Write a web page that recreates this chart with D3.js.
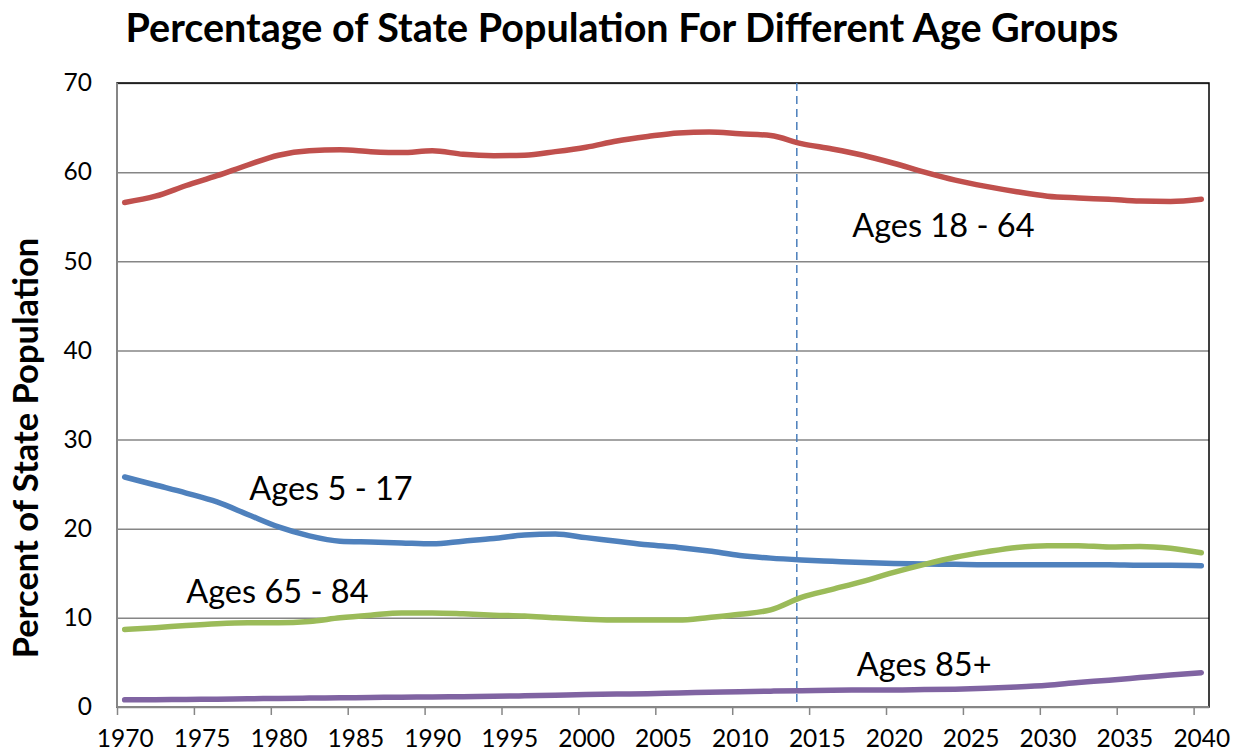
<!DOCTYPE html>
<html>
<head>
<meta charset="utf-8">
<script src="https://cdn.jsdelivr.net/npm/d3@7"></script>
<style>
  body { margin: 0; background: #fff; }
  svg { display: block; font-family: Lato, "Open Sans", sans-serif; }
</style>
</head>
<body>
<svg id="chart" width="1238" height="752"></svg>
<script>
const years = [1970, 1972, 1974, 1976, 1978, 1980, 1982, 1984, 1986, 1988,
  1990, 1992, 1994, 1996, 1998, 2000, 2002, 2004, 2006, 2008,
  2010, 2012, 2014, 2016, 2018, 2020, 2022, 2024, 2026, 2028,
  2030, 2032, 2034, 2036, 2038, 2040]

const ages18to64 = [56.6, 57.3, 58.5, 59.6, 60.8, 61.9, 62.4, 62.5, 62.3, 62.2,
  62.4, 62.0, 61.85, 61.9, 62.3, 62.8, 63.5, 64.0, 64.4, 64.5,
  64.3, 64.1, 63.2, 62.6, 61.9, 61.0, 60.0, 59.1, 58.4, 57.8,
  57.3, 57.1, 56.95, 56.75, 56.7, 56.95]

const ages5to17 = [25.8, 24.9, 24.0, 23.0, 21.6, 20.2, 19.2, 18.6, 18.5, 18.4,
  18.3, 18.6, 18.9, 19.3, 19.4, 19.0, 18.6, 18.2, 17.9, 17.5,
  17.0, 16.7, 16.5, 16.35, 16.2, 16.1, 16.05, 16.0, 15.95, 15.95,
  15.95, 15.95, 15.95, 15.9, 15.9, 15.85]

const ages65to84 = [8.7, 8.9, 9.15, 9.35, 9.45, 9.45, 9.6, 10.0, 10.3, 10.55,
  10.55, 10.45, 10.3, 10.2, 10.0, 9.85, 9.75, 9.75, 9.75, 10.05,
  10.4, 10.9, 12.3, 13.2, 14.1, 15.1, 16.0, 16.8, 17.4, 17.9,
  18.1, 18.1, 17.95, 18.0, 17.8, 17.3]

const ages85plus = [0.8, 0.82, 0.85, 0.88, 0.92, 0.96, 1.0, 1.03, 1.07, 1.1,
  1.12, 1.16, 1.2, 1.25, 1.32, 1.4, 1.45, 1.5, 1.58, 1.65,
  1.72, 1.78, 1.82, 1.88, 1.9, 1.9, 1.95, 2.0, 2.1, 2.25,
  2.45, 2.75, 3.0, 3.3, 3.6, 3.85]

const labelYears = [1970, 1975, 1980, 1985, 1990, 1995, 2000, 2005, 2010, 2015, 2020, 2025, 2030, 2035, 2040]
const yTicks = [0, 10, 20, 30, 40, 50, 60, 70]
const dividerYear = 2013.7

const series = [
  { name: 'Ages 18 - 64', values: ages18to64, color: '#C0504D', lx: 2017.3, ly: 52.7 },
  { name: 'Ages 5 - 17', values: ages5to17, color: '#4F81BD', lx: 1978.1, ly: 23.2 },
  { name: 'Ages 65 - 84', values: ages65to84, color: '#9BBB59', lx: 1974.0, ly: 11.7 },
  { name: 'Ages 85+', values: ages85plus, color: '#8064A2', lx: 2017.6, ly: 3.5 }
]

const svg = d3.select('#chart')
const plot = { left: 117, top: 83, right: 1209, bottom: 707 }

// one category per year, points sit in the middle of their category
const x = d3.scaleLinear().domain([1969.5, 2040.5]).range([plot.left, plot.right])
const y = d3.scaleLinear().domain([0, 70]).range([plot.bottom, plot.top])

// gridlines
svg.append('g')
  .attr('transform', `translate(${plot.left},0)`)
  .call(d3.axisLeft(y).tickValues(yTicks).tickSize(-(plot.right - plot.left)).tickFormat(''))
  .call(g => g.select('.domain').remove())
  .call(g => g.selectAll('line').attr('stroke', '#868686').attr('stroke-width', 1.5))

// plot border
svg.append('rect')
  .attr('x', plot.left).attr('y', plot.top)
  .attr('width', plot.right - plot.left).attr('height', plot.bottom - plot.top)
  .attr('fill', 'none').attr('stroke', '#000').attr('stroke-width', 1.5)

// y labels
svg.append('g')
  .attr('transform', `translate(${plot.left},0)`)
  .call(d3.axisLeft(y).tickValues(yTicks).tickSize(0).tickPadding(25))
  .call(g => g.select('.domain').remove())
  .call(g => g.selectAll('text').attr('font-size', 24.5).attr('fill', '#000').attr('font-family', 'Lato'))

// x tick marks at category boundaries
svg.append('g')
  .attr('transform', `translate(0,${plot.bottom})`)
  .call(d3.axisBottom(x).tickValues(labelYears.map(d => d - 0.5)).tickSize(8).tickFormat(''))
  .call(g => g.select('.domain').remove())
  .call(g => g.selectAll('line').attr('stroke', '#868686').attr('stroke-width', 1.5))

// x labels centred on categories
svg.append('g')
  .attr('transform', `translate(0,${plot.bottom})`)
  .call(d3.axisBottom(x).tickValues(labelYears).tickSize(0).tickPadding(23).tickFormat(d3.format('d')))
  .call(g => g.select('.domain').remove())
  .call(g => g.selectAll('text').attr('font-size', 24.5).attr('fill', '#000').attr('font-family', 'Lato'))

// axis lines
svg.append('line').attr('x1', plot.left).attr('x2', plot.left).attr('y1', plot.top).attr('y2', plot.bottom)
  .attr('stroke', '#868686').attr('stroke-width', 2)
svg.append('line').attr('x1', plot.left).attr('x2', plot.right).attr('y1', plot.bottom).attr('y2', plot.bottom)
  .attr('stroke', '#868686').attr('stroke-width', 2)

// divider between estimates and projections
svg.append('line')
  .attr('x1', x(dividerYear)).attr('x2', x(dividerYear))
  .attr('y1', plot.top).attr('y2', plot.bottom)
  .attr('stroke', '#4A7EBB').attr('stroke-width', 1.5).attr('stroke-dasharray', '8,5')

const line = d3.line()
  .x((d, i) => x(years[i]))
  .y(d => y(d))
  .curve(d3.curveMonotoneX)

svg.selectAll('path.series')
  .data(series)
  .join('path')
  .attr('class', 'series')
  .attr('d', d => line(d.values))
  .attr('fill', 'none')
  .attr('stroke', d => d.color)
  .attr('stroke-width', 5.5)
  .attr('stroke-linecap', 'round')
  .attr('stroke-linejoin', 'round')

svg.selectAll('text.series-label')
  .data(series)
  .join('text')
  .attr('class', 'series-label')
  .attr('x', d => x(d.lx))
  .attr('y', d => y(d.ly))
  .attr('font-size', 32.5)
  .attr('fill', '#000')
  .text(d => d.name)

svg.append('text')
  .attr('x', 622).attr('y', 42)
  .attr('text-anchor', 'middle')
  .attr('font-size', 39.5).attr('font-weight', 'bold')
  .text('Percentage of State Population For Different Age Groups')

svg.append('text')
  .attr('transform', 'translate(38,448) rotate(-90)')
  .attr('text-anchor', 'middle')
  .attr('font-size', 34.5).attr('font-weight', 'bold')
  .text('Percent of State Population')
</script>
</body>
</html>
